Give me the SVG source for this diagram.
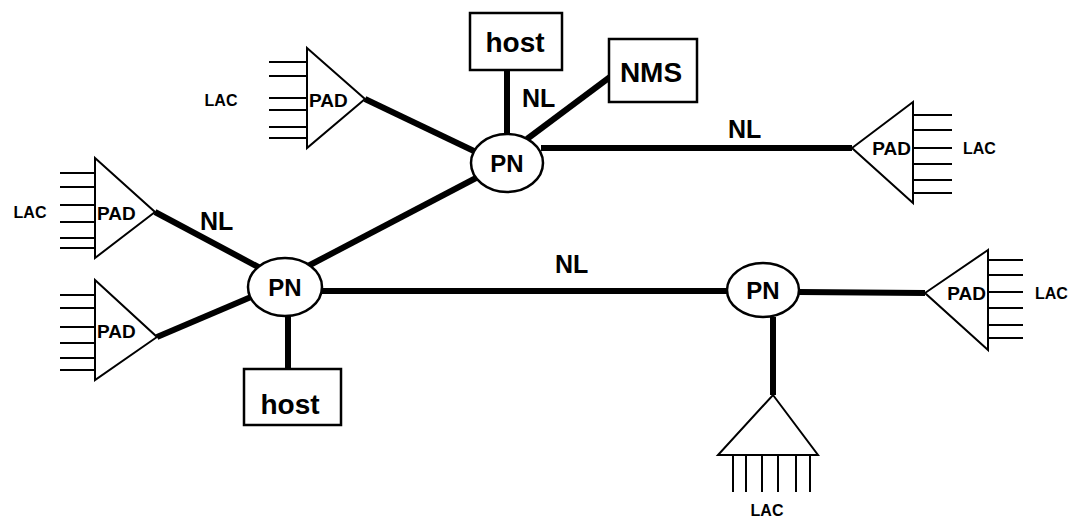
<svg xmlns="http://www.w3.org/2000/svg" width="1077" height="521" viewBox="0 0 1077 521">
<style>
.bg{fill:#fff}
.box{fill:#fff;stroke:#000;stroke-width:2.5}
.pn{fill:#fff;stroke:#000;stroke-width:2.5}
.tri{fill:#fff;stroke:#000;stroke-width:2;stroke-linejoin:miter}
.lac{stroke:#000;stroke-width:2;fill:none}
.link{stroke:#000;stroke-width:6;fill:none;stroke-linecap:butt}
.big{font-family:"Liberation Sans",Arial,sans-serif;font-weight:bold;fill:#000}
.t28{font-size:28px}
.t24{font-size:24px}
.t25{font-size:25px}
.pad{font-family:"Liberation Sans",Arial,sans-serif;font-weight:bold;font-size:19px;fill:#000}
.lbl{font-family:"Liberation Sans",Arial,sans-serif;font-weight:bold;font-size:16px;fill:#000}
</style>
<rect class="bg" x="0" y="0" width="1077" height="521"/>
<g id="connectors">
<line class="link" x1="365" y1="99" x2="476" y2="152"/>
<line class="link" x1="507" y1="70" x2="507" y2="135"/>
<line class="link" x1="527" y1="139" x2="610" y2="77"/>
<line class="link" x1="541" y1="148" x2="852" y2="148"/>
<line class="link" x1="155" y1="212" x2="262" y2="269"/>
<line class="link" x1="157" y1="337" x2="251" y2="297"/>
<line class="link" x1="308" y1="266" x2="476" y2="178"/>
<line class="link" x1="288" y1="316" x2="288" y2="370"/>
<line class="link" x1="322" y1="291" x2="727" y2="291"/>
<line class="link" x1="799" y1="292" x2="925" y2="293"/>
<line class="link" x1="773" y1="317" x2="773" y2="395"/>
<text class="big t25" x="522" y="107">NL</text>
<text class="big t25" x="728" y="138">NL</text>
<text class="big t25" x="200" y="230">NL</text>
<text class="big t25" x="555" y="273">NL</text>
</g>
<g id="pad-top">
<path class="lac" d="M269 62H307M269 76H307M269 98H307M269 110H307M269 127H307M269 138H307"/>
<polygon class="tri" points="307,48 365,99 307,148"/>
<text class="pad" x="309" y="107">PAD</text>
<text class="lbl" x="221" y="106" text-anchor="middle">LAC</text>
</g>
<g id="pn-top">
<ellipse class="pn" cx="507" cy="163" rx="36" ry="29"/>
<text class="big t24" x="507" y="172" text-anchor="middle">PN</text>
</g>
<g id="host-top">
<rect class="box" x="470" y="13" width="92" height="57"/>
<text class="big t28" x="515" y="52" text-anchor="middle">host</text>
</g>
<g id="nms">
<rect class="box" x="609" y="39" width="88" height="63"/>
<text class="big t28" x="651" y="82" text-anchor="middle">NMS</text>
</g>
<g id="pad-right-top">
<path class="lac" d="M913 115H952M913 130H952M913 148H952M913 164H952M913 180H952M913 193H952"/>
<polygon class="tri" points="913,102 852,148 913,203"/>
<text class="pad" x="911" y="155" text-anchor="end">PAD</text>
<text class="lbl" x="963" y="154">LAC</text>
</g>
<g id="pad-left-mid">
<path class="lac" d="M60 173H95M60 187H95M60 205H95M60 222H95M60 238H95M60 248H95"/>
<polygon class="tri" points="95,158 155,212 95,258"/>
<text class="pad" x="97" y="220">PAD</text>
<text class="lbl" x="30" y="218" text-anchor="middle">LAC</text>
</g>
<g id="pad-left-low">
<path class="lac" d="M60 295H95M60 308H95M60 327H95M60 343H95M60 358H95M60 370H95"/>
<polygon class="tri" points="95,280 157,337 95,380"/>
<text class="pad" x="97" y="338">PAD</text>
</g>
<g id="pn-left">
<ellipse class="pn" cx="285" cy="287" rx="37" ry="29"/>
<text class="big t24" x="285" y="296" text-anchor="middle">PN</text>
</g>
<g id="host-low">
<rect class="box" x="244" y="369" width="97" height="56"/>
<text class="big t28" x="290" y="414" text-anchor="middle">host</text>
</g>
<g id="pn-right">
<ellipse class="pn" cx="763" cy="290" rx="36" ry="27"/>
<text class="big t24" x="763" y="299" text-anchor="middle">PN</text>
</g>
<g id="pad-right-low">
<path class="lac" d="M988 260H1023M988 275H1023M988 292H1023M988 308H1023M988 325H1023M988 338H1023"/>
<polygon class="tri" points="988,250 925,293 988,350"/>
<text class="pad" x="986" y="300" text-anchor="end">PAD</text>
<text class="lbl" x="1035" y="299">LAC</text>
</g>
<g id="pad-bottom">
<path class="lac" d="M733 455V492M746 455V492M762 455V492M778 455V492M796 455V492M810 455V492"/>
<polygon class="tri" points="773,395 818,455 718,455"/>
<text class="lbl" x="767" y="516" text-anchor="middle">LAC</text>
</g>
</svg>
